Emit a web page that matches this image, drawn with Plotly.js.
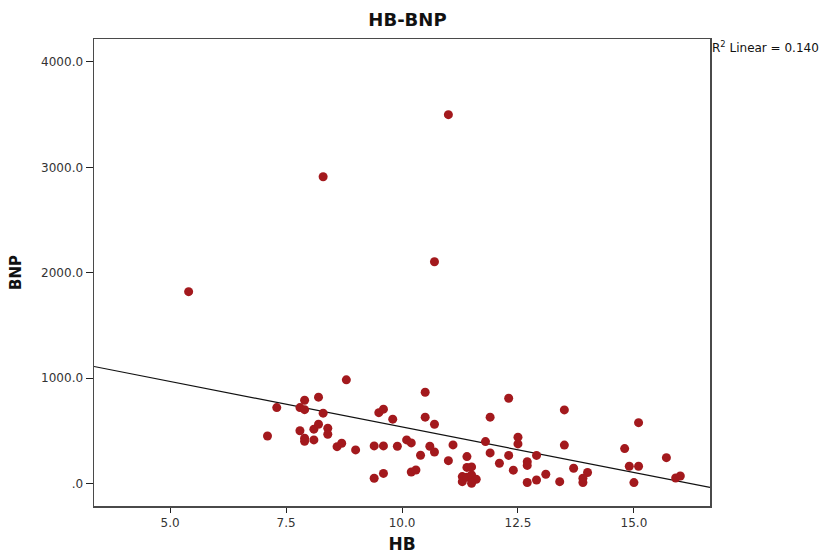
<!DOCTYPE html>
<html>
<head>
<meta charset="utf-8">
<script src="https://cdn.plot.ly/plotly-3.0.1.min.js"></script>
<style>html,body{margin:0;padding:0;background:#fff;}#chart{width:824px;height:554px;}</style>
</head>
<body>
<div id="chart"></div>
<script>
// HB values (x) and BNP values (y)
const hb = [5.4, 7.1, 7.3, 7.8, 7.9, 7.9, 7.8, 7.9, 7.9, 8.1, 8.1, 8.2, 8.2, 8.3, 8.3, 8.4, 8.4, 8.6, 8.7, 8.8,
  9.0, 9.4, 9.4, 9.5, 9.6, 9.6, 9.6, 9.8, 9.9, 10.1, 10.2, 10.2, 10.3, 10.4, 10.5, 10.5, 10.6, 10.7, 10.7, 10.7,
  11.0, 11.0, 11.1, 11.4, 11.4, 11.5, 11.3, 11.3, 11.4, 11.5, 11.6, 11.5, 11.8, 11.9, 11.9, 12.1, 12.3, 12.3, 12.4, 12.5,
  12.5, 12.7, 12.7, 12.7, 12.9, 12.9, 13.1, 13.4, 13.5, 13.5, 13.7, 14.0, 13.9, 13.9, 14.8, 14.9, 15.1, 15.0, 15.1, 15.7,
  15.9, 16.0];
const bnp = [1820, 450, 720, 720, 700, 790, 500, 430, 400, 515, 413, 819, 562, 667, 2911, 524, 467, 349, 382, 983,
  318, 356, 49, 672, 705, 356, 95, 610, 353, 413, 385, 109, 128, 268, 866, 629, 353, 299, 562, 2104,
  3500, 216, 366, 255, 152, 157, 65, 17, 59, 81, 40, 2, 397, 629, 290, 192, 809, 266, 126, 439,
  375, 207, 171, 9, 266, 33, 87, 17, 698, 364, 144, 104, 49, 9, 331, 163, 163, 8, 577, 245,
  52, 71];
const xTickVals = [5.0, 7.5, 10.0, 12.5, 15.0];
const xTickText = ["5.0", "7.5", "10.0", "12.5", "15.0"];
const yTickVals = [0, 1000, 2000, 3000, 4000];
const yTickText = [".0", "1000.0", "2000.0", "3000.0", "4000.0"];
const xRange = [3.36, 16.64];
const yRange = [-214, 4218];

// least-squares fit line
const n = hb.length;
let sx = 0, sy = 0, sxx = 0, sxy = 0;
for (let i = 0; i < n; i++) { sx += hb[i]; sy += bnp[i]; sxx += hb[i]*hb[i]; sxy += hb[i]*bnp[i]; }
const slope = (n*sxy - sx*sy) / (n*sxx - sx*sx);
const intercept = (sy - slope*sx) / n;
const fitX = [xRange[0], xRange[1]];
const fitY = fitX.map(v => intercept + slope*v);

const font = "DejaVu Sans, Arial, sans-serif";
const data = [
  {x: fitX, y: fitY, type: 'scatter', mode: 'lines', line: {color: '#111', width: 1.2}, hoverinfo: 'skip'},
  {x: hb, y: bnp, type: 'scatter', mode: 'markers',
   marker: {color: '#a3191d', size: 9, line: {width: 0}}}
];
const layout = {
  width: 824, height: 554,
  margin: {l: 94, r: 114, t: 39, b: 48},
  paper_bgcolor: '#fff', plot_bgcolor: '#fff',
  showlegend: false,
  font: {family: font, color: '#222', size: 12},
  title: {text: '<b>HB-BNP</b>', font: {family: font, size: 18, color: '#111'}, x: 0.4945, xanchor: 'center', y: 0.964, yanchor: 'middle'},
  xaxis: {
    range: xRange, tickmode: 'array', tickvals: xTickVals, ticktext: xTickText,
    showgrid: false, zeroline: false, showline: true, mirror: true, linecolor: '#4a4a4a', linewidth: 1.5,
    ticks: 'outside', ticklen: 5, tickcolor: '#222', tickfont: {family: font, size: 12, color: '#333'},
    title: {text: '<b>HB</b>', font: {family: font, size: 17, color: '#111'}, standoff: 12}
  },
  yaxis: {
    range: yRange, tickmode: 'array', tickvals: yTickVals, ticktext: yTickText,
    showgrid: false, zeroline: false, showline: true, mirror: true, linecolor: '#4a4a4a', linewidth: 1.5,
    ticks: 'outside', ticklen: 7, tickcolor: '#222', tickfont: {family: font, size: 12, color: '#333'},
    title: {text: '<b>BNP</b>', font: {family: font, size: 15, color: '#111'}, standoff: 16}
  },
  annotations: [{
    xref: 'paper', yref: 'paper', x: 1, y: 0.983, xanchor: 'left', yanchor: 'middle', xshift: 0,
    text: 'R<sup>2</sup> Linear = 0.140', showarrow: false, font: {family: font, size: 12, color: '#111'}
  }]
};
Plotly.newPlot('chart', data, layout, {displayModeBar: false, staticPlot: true});
</script>
</body>
</html>
